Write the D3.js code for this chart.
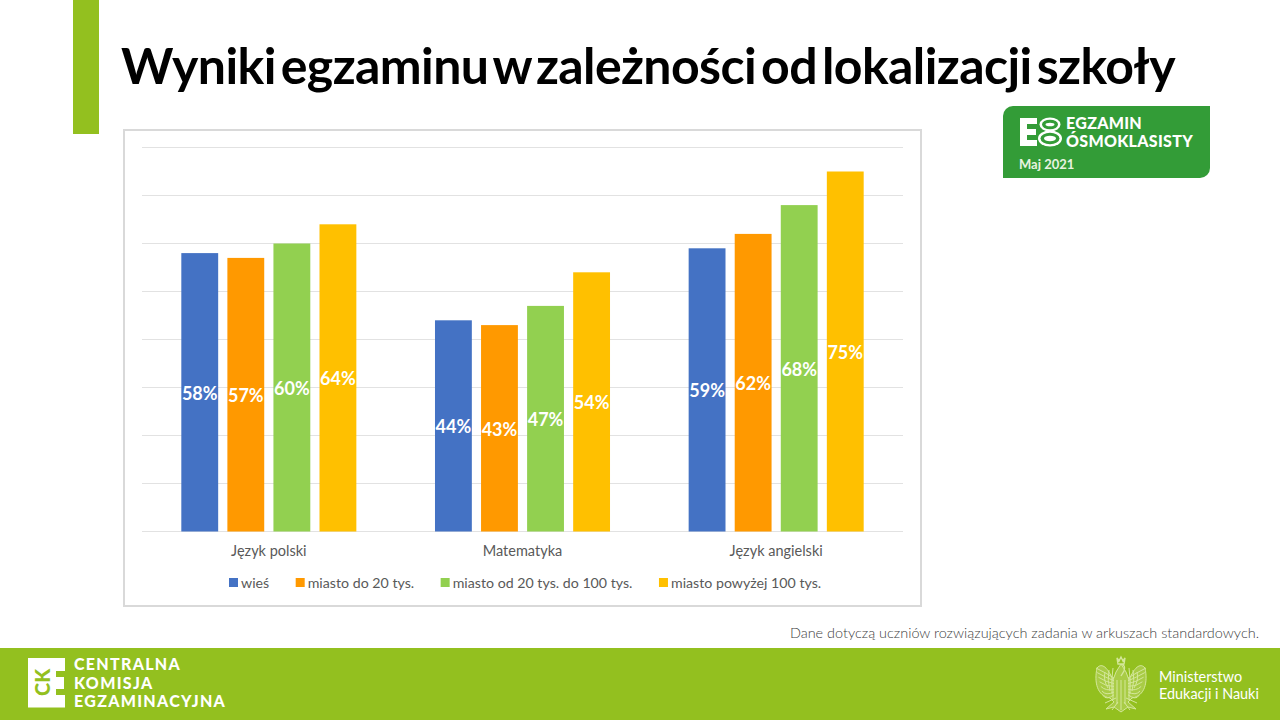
<!DOCTYPE html>
<html><head><meta charset="utf-8">
<script src="https://cdn.jsdelivr.net/npm/d3@7"></script>
<style>html,body{margin:0;padding:0;background:#fff}svg{display:block}text{font-family:Lato,sans-serif}</style>
</head><body><svg id="c" width="1280" height="720"></svg>
<script>
const categories = ["Język polski","Matematyka","Język angielski"];
const seriesNames = ["wieś","miasto do 20 tys.","miasto od 20 tys. do 100 tys.","miasto powyżej 100 tys."];
const seriesColors = ["#4472c4","#ff9900","#92d050","#ffc000"];
const wies = [58,44,59];
const miasto20 = [57,43,62];
const miasto100 = [60,47,68];
const miastoPowyzej = [64,54,75];
const seriesValues = [wies,miasto20,miasto100,miastoPowyzej];
const gridTicks = [0,10,20,30,40,50,60,70,80];

const svg = d3.select("#c");
// page furniture
svg.append("rect").attr("x",73).attr("y",0).attr("width",26).attr("height",134).attr("fill","#93c01f");
const title = svg.append("text").attr("x",121).attr("y",84).attr("font-size",50).attr("font-weight",700).attr("letter-spacing",-0.6).attr("fill","#000")
  .text("Wyniki egzaminu w zależności od lokalizacji szkoły");
title.attr("word-spacing",(1054-title.node().getComputedTextLength())/6);

// chart frame
svg.append("rect").attr("x",124).attr("y",130).attr("width",797).attr("height",476).attr("fill","#fff").attr("stroke","#d9d9d9").attr("stroke-width",2);

const x0 = d3.scaleBand().domain(categories).range([142,903]).paddingInner(0.31).paddingOuter(0.155);
const x1 = d3.scaleBand().domain(seriesNames).range([0,x0.bandwidth()]).paddingInner(0.2).paddingOuter(0);
const y = d3.scaleLinear().domain([0,80]).range([531.5,147.5]);

svg.append("g").selectAll("line").data(gridTicks).join("line")
  .attr("x1",142).attr("x2",903).attr("y1",d=>y(d)).attr("y2",d=>y(d))
  .attr("stroke","#e2e2e2").attr("stroke-width",1.2);

const groups = svg.append("g").selectAll("g").data(seriesNames).join("g");
groups.each(function(name,i){
  const g = d3.select(this);
  const rows = categories.map((c,k)=>({c,v:seriesValues[i][k]}));
  g.selectAll("rect").data(rows).join("rect")
    .attr("x",d=>x0(d.c)+x1(name)).attr("width",x1.bandwidth())
    .attr("y",d=>y(d.v)).attr("height",d=>y(0)-y(d.v)).attr("fill",seriesColors[i]);
  g.selectAll("text").data(rows).join("text")
    .attr("x",d=>x0(d.c)+x1(name)+x1.bandwidth()/2)
    .attr("y",d=>(y(d.v)+y(0))/2+7.5)
    .attr("text-anchor","middle").attr("font-size",18).attr("font-weight",700).attr("fill","#fff")
    .text(d=>d.v+"%");
});

svg.append("g").selectAll("text").data(categories).join("text")
  .attr("x",d=>x0(d)+x0.bandwidth()/2).attr("y",556).attr("text-anchor","middle")
  .attr("font-size",14.5).attr("fill","#595959").text(d=>d);

// legend: laid out by measuring each label
let lx = 229;
const legend = svg.append("g");
seriesNames.forEach((n,i)=>{
  legend.append("rect").attr("x",lx).attr("y",578).attr("width",9).attr("height",9).attr("fill",seriesColors[i]);
  const t = legend.append("text").attr("x",lx+12).attr("y",588).attr("font-size",14.2).attr("fill","#595959").text(n);
  lx += 12 + t.node().getComputedTextLength() + 26.5;
});

// note
svg.append("text").attr("x",1259).attr("y",638).attr("text-anchor","end").attr("font-size",14.45).attr("font-weight",300).attr("fill","#404040")
  .text("Dane dotyczą uczniów rozwiązujących zadania w arkuszach standardowych.");

// E8 badge
svg.append("path").attr("d","M1013 106H1210V168A10 10 0 0 1 1200 178H1003V116A10 10 0 0 1 1013 106Z").attr("fill","#339c37");
svg.append("path").attr("fill","#fff")
  .attr("d","M1020 118H1037V124H1027V129H1036V135H1027V140H1037V146H1020Z");
const e8 = svg.append("g");
[[1050,124.5,10.5,7],[1050,138.5,12,8]].forEach(([cx,cy,rx,ry])=>{
  e8.append("ellipse").attr("cx",cx).attr("cy",cy).attr("rx",rx).attr("ry",ry).attr("fill","#fff");
});
[[1050,124.5,8,4.8],[1050,138.5,9.500,5.7]].forEach(([cx,cy,rx,ry])=>{
  e8.append("ellipse").attr("cx",cx).attr("cy",cy).attr("rx",rx).attr("ry",ry).attr("fill","#339c37");
  e8.append("ellipse").attr("cx",cx).attr("cy",cy).attr("rx",rx-3.500).attr("ry",ry-3).attr("fill","#fff");
});
svg.append("text").attr("x",1066).attr("y",129).attr("font-size",16).attr("font-weight",900).attr("letter-spacing",0.3).attr("fill","#fff").text("EGZAMIN");
svg.append("text").attr("x",1066).attr("y",146.500).attr("font-size",16).attr("font-weight",900).attr("letter-spacing",0.3).attr("fill","#fff").text("ÓSMOKLASISTY");
svg.append("text").attr("x",1019).attr("y",169).attr("font-size",13).attr("font-weight",700).attr("fill","#e8f3e0").text("Maj 2021");

// footer
svg.append("rect").attr("x",0).attr("y",648).attr("width",1280).attr("height",72).attr("fill","#93c01f");
svg.append("path").attr("fill","#fff").attr("d","M28 658H65V671H56V677H64V689H56V695H65V707.500H28Z");
svg.append("text").attr("transform","translate(49.500 696) rotate(-90)").attr("font-size",20).attr("font-weight",900).attr("fill","#93c01f").text("CK");
["CENTRALNA","KOMISJA","EGZAMINACYJNA"].forEach((t,i)=>{
  svg.append("text").attr("x",74).attr("y",670+i*18.500).attr("font-size",16).attr("font-weight",900).attr("letter-spacing",1.3).attr("fill","#fff").text(t);
});
// eagle emblem
const eagle = svg.append("g").attr("fill","none").attr("stroke","#d4e79a").attr("stroke-width",1);
eagle.append("path").attr("fill","#a9cc46").attr("d","M1121 664L1116 672L1113 680C1108 668 1102 662 1097 668C1094 682 1097 696 1110 698L1114 702L1106 709L1114 707L1121 712L1128 707L1136 709L1128 702L1132 698C1145 696 1148 682 1145 668C1140 662 1134 668 1129 680L1126 672Z");
[-1,1].forEach(s=>{
  [0,1,2,3,4,5,6].forEach(i=>{
    const xo = 1121+s*(25-i*1.2), yo = 668+i*4.6;
    eagle.append("path").attr("d",`M${xo} ${yo}Q${1121+s*15} ${yo+5} ${1121+s*7} ${678+i*2.8}`);
  });
  [0,1,2].forEach(i=>eagle.append("path").attr("d",`M${1121+s*(8+i*4)} ${668+i*2}Q${1121+s*(10+i*4)} ${680} ${1121+s*(9+i*2)} ${694-i*3}`));
  eagle.append("path").attr("d",`M${1121+s*5} 698L${1121+s*16} 703M${1121+s*3} 702L${1121+s*9} 710`);
});
[0,1,2,3,4].forEach(i=>eagle.append("path").attr("d",`M${1113+i*4} 680V${700+(i===2?10:i%2*4)}`));
eagle.append("path").attr("stroke-width",1.4).attr("d","M1117 658L1119 661L1121 657L1123 661L1125 658L1124 664H1118ZM1121 664Q1126 665 1124 671L1121 676");
svg.append("text").attr("x",1159).attr("y",682).attr("font-size",14.4).attr("fill","#fff").attr("font-weight",400).text("Ministerstwo");
svg.append("text").attr("x",1159).attr("y",699).attr("font-size",14.4).attr("fill","#fff").attr("font-weight",400).text("Edukacji i Nauki");
</script></body></html>
